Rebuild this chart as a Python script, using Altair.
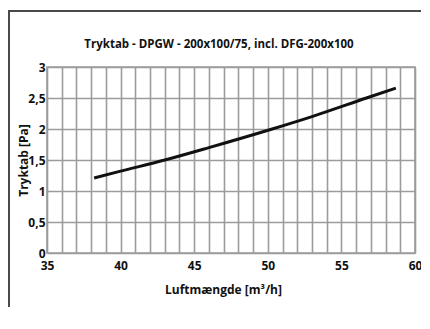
import altair as alt
import pandas as pd

# Data
airflow = [38.2, 40.0, 43.0, 46.0, 50.3, 53.0, 56.7, 58.7]          # m³/h
pressure = [1.21, 1.32, 1.50, 1.70, 2.00, 2.20, 2.50, 2.66]          # Pa
x_ticks = list(range(35, 61))
y_ticks = [0, 0.5, 1, 1.5, 2, 2.5, 3]
chart_title = "Tryktab - DPGW - 200x100/75, incl. DFG-200x100"

df = pd.DataFrame({"q": airflow, "p": pressure})
one = pd.DataFrame({"t": [chart_title]})

FONT = "Open Sans"
GRID = "#9c9c9c"

x_enc = alt.X(
    "q:Q",
    scale=alt.Scale(domain=[35, 60], nice=False, zero=False),
    axis=alt.Axis(
        title="Luftmængde [m³/h]",
        values=x_ticks,
        labelExpr="datum.value % 5 === 0 ? datum.label : ''",
        labelOverlap=False,
        labelFlush=False,
        grid=True,
        gridColor=GRID,
        gridWidth=1.6,
        domain=False,
        ticks=False,
        labelPadding=7,
        labelFontSize=12,
        labelFontWeight="bold",
        labelFont=FONT,
        labelColor="#111",
        titleFont=FONT,
        titleFontSize=12,
        titleFontWeight="bold",
        titleColor="#111",
        titleX=176,
        titleY=31,
        titleAnchor="middle",
        titleBaseline="top",
    ),
)

y_enc = alt.Y(
    "p:Q",
    scale=alt.Scale(domain=[0, 3], nice=False),
    axis=alt.Axis(
        title="Tryktab [Pa]",
        values=y_ticks,
        labelExpr="replace(format(datum.value, '~g'), '.', ',')",
        labelOverlap=False,
        labelFlush=False,
        grid=True,
        gridColor=GRID,
        gridWidth=1.6,
        domain=False,
        ticks=False,
        labelPadding=2,
        labelFontSize=12,
        labelFontWeight="bold",
        labelFont=FONT,
        labelColor="#111",
        labelBaseline="middle",
        titleFont=FONT,
        titleFontSize=12,
        titleFontWeight="bold",
        titleColor="#111",
        titleX=-17,
        titleY=93,
        titleAnchor="middle",
    ),
)

line = alt.Chart(df).mark_line(
    color="#111111", strokeWidth=3, interpolate="monotone"
).encode(x=x_enc, y=y_enc)

title = alt.Chart(one).mark_text(
    font=FONT, fontSize=11.5, fontWeight="bold", color="#111",
    align="center", baseline="alphabetic",
).encode(text="t:N", x=alt.value(172), y=alt.value(-19))

# page frame (only top and left edges are visible in the reference)
frame_top = alt.Chart(one).mark_rect(fill="#4a4a4a", strokeWidth=0).encode(
    x=alt.value(-39), x2=alt.value(374), y=alt.value(-57), y2=alt.value(-55)
)
frame_left = alt.Chart(one).mark_rect(fill="#4a4a4a", strokeWidth=0).encode(
    x=alt.value(-39), x2=alt.value(-37), y=alt.value(-57), y2=alt.value(240)
)

chart = alt.layer(frame_top, frame_left, line, title).properties(
    width=368,
    height=186,
    autosize=alt.AutoSizeParams(type="none"),
    padding={"left": 39, "top": 59, "right": 6, "bottom": 54},
    background="white",
).configure_view(stroke=None).configure_axis(domain=False)

# plot-area border drawn by the view itself is replaced by a plain rect layer
border = alt.Chart(one).mark_rect(fill=None, stroke=GRID, strokeWidth=1.6).encode(
    x=alt.value(0), x2=alt.value(368), y=alt.value(0), y2=alt.value(186)
)

chart = alt.layer(frame_top, frame_left, border, line, title).properties(
    width=368,
    height=186,
    autosize=alt.AutoSizeParams(type="none"),
    padding={"left": 39, "top": 59, "right": 6, "bottom": 54},
    background="white",
).configure_view(strokeWidth=0)

chart.save("out.html", embed_options={"renderer": "svg", "actions": False})
